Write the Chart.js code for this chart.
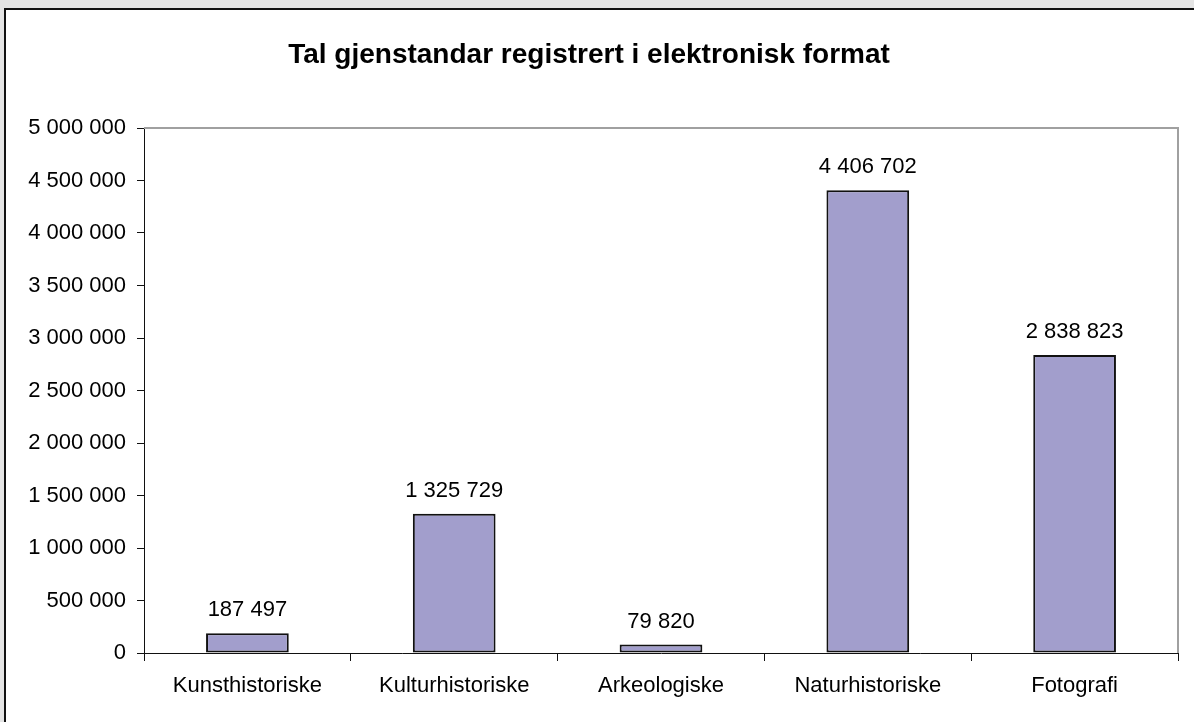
<!DOCTYPE html>
<html>
<head>
<meta charset="utf-8">
<script src="https://cdn.jsdelivr.net/npm/chart.js@4/dist/chart.umd.min.js"></script>
<style>
    html, body { margin: 0; padding: 0; width: 1194px; height: 722px; overflow: hidden; background: #e4e4e4; }
    #frame { position: absolute; left: 4px; top: 8px; width: 1300px; height: 800px; border: 2px solid #111; background: #fff; }
    #wrap { position: absolute; left: 0; top: 0; width: 1194px; height: 722px; }
</style>
</head>
<body>
<div id="frame"></div>
<div id="wrap"><canvas id="chart"></canvas></div>
<script>
// --- Data ---
const categories = ['Kunsthistoriske', 'Kulturhistoriske', 'Arkeologiske', 'Naturhistoriske', 'Fotografi'];
const values = [187497, 1325729, 79820, 4406702, 2838823];
const yMin = 0;
const yMax = 5000000;
const yStep = 500000;
const titleText = 'Tal gjenstandar registrert i elektronisk format';

const fontFamily = "'Liberation Sans', Arial, sans-serif";

// 5000000 -> "5 000 000"
function fmt(v) {
    return String(v).replace(/\B(?=(\d{3})+(?!\d))/g, ' ');
}

// grey frame on top and right of the plot area
const plotFrame = {
    id: 'plotFrame',
    beforeDatasetsDraw(chart) {
        const a = chart.chartArea;
        const ctx = chart.ctx;
        ctx.save();
        ctx.strokeStyle = '#a0a0a0';
        ctx.lineWidth = 2;
        ctx.beginPath();
        ctx.moveTo(a.left, a.top);
        ctx.lineTo(a.right, a.top);
        ctx.lineTo(a.right, a.bottom);
        ctx.stroke();
        ctx.restore();
    }
};

// value labels above the bars
const barLabels = {
    id: 'barLabels',
    afterDatasetsDraw(chart) {
        const ctx = chart.ctx;
        const meta = chart.getDatasetMeta(0);
        ctx.save();
        ctx.font = '22px ' + fontFamily;
        ctx.fillStyle = '#000';
        ctx.textAlign = 'center';
        ctx.textBaseline = 'alphabetic';
        meta.data.forEach((bar, i) => {
            ctx.fillText(fmt(values[i]), bar.x, bar.y - 17);
        });
        ctx.restore();
    }
};

new Chart(document.getElementById('chart'), {
    type: 'bar',
    data: {
        labels: categories,
        datasets: [{
            data: values,
            backgroundColor: '#a29ecc',
            borderColor: '#111',
            borderWidth: 2,
            borderSkipped: false,
            barPercentage: 0.4,
            categoryPercentage: 1
        }]
    },
    options: {
        responsive: true,
        maintainAspectRatio: false,
        animation: false,
        layout: { padding: { left: 0, right: 16, top: 0, bottom: 0 } },
        plugins: {
            legend: { display: false },
            tooltip: { enabled: false },
            title: {
                display: true,
                text: titleText,
                color: '#000',
                font: { family: fontFamily, size: 28, weight: 'bold', lineHeight: 1.2 },
                padding: { top: 38, bottom: 56.4 }
            }
        },
        scales: {
            x: {
                grid: { display: true, drawOnChartArea: false, drawTicks: true, tickLength: 8, color: '#111', offset: true },
                border: { display: true, color: '#111', width: 1 },
                ticks: { color: '#000', font: { family: fontFamily, size: 22 }, padding: 12, maxRotation: 0, autoSkip: false },
                afterFit(scale) { scale.height = 69; }
            },
            y: {
                min: yMin,
                max: yMax,
                grid: { display: true, drawOnChartArea: false, drawTicks: true, tickLength: 7, color: '#111' },
                border: { display: true, color: '#111', width: 1 },
                ticks: {
                    stepSize: yStep,
                    color: '#000',
                    font: { family: fontFamily, size: 22 },
                    padding: 11,
                    callback: (v) => fmt(v)
                },
                afterFit(scale) { scale.width = 144; }
            }
        }
    },
    plugins: [plotFrame, barLabels]
});
</script>
</body>
</html>
